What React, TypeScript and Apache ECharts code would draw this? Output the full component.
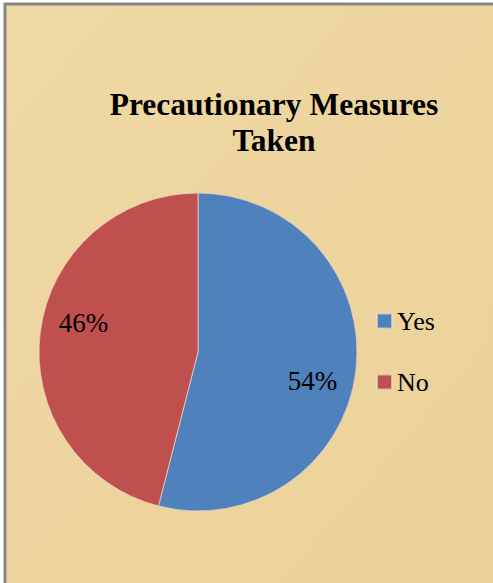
import React, { useEffect, useRef } from "react";
import * as echarts from "echarts";

const titleLines = ["Precautionary Measures", "Taken"];
const categories = ["Yes", "No"];
const values = [54, 46];
const colors = ["#4F81BD", "#C0504D"];

const SERIF = "Liberation Serif";

export default function App() {
  const ref = useRef<HTMLDivElement>(null);
  useEffect(() => {
    document.body.style.margin = "0";
    const chart = echarts.init(ref.current!, null, { renderer: "svg" });
    const data = categories.map((c, i) => ({ name: c, value: values[i], itemStyle: { color: colors[i] } }));
    chart.setOption({
      animation: false,
      backgroundColor: "#ffffff",
      textStyle: { fontFamily: SERIF },
      graphic: [
        {
          type: "rect",
          z: -10,
          shape: { x: 5, y: 4, width: 600, height: 700 },
          style: {
            fill: new echarts.graphic.LinearGradient(0, 0, 1, 1, [
              { offset: 0, color: "#EFD9A6" },
              { offset: 0.5, color: "#EDD39C" },
              { offset: 1, color: "#EBD09A" },
            ]),
            stroke: "#858585",
            lineWidth: 3,
          },
        },
      ],
      title: {
        text: titleLines.join("\n"),
        left: 269,
        top: 81,
        textAlign: "center",
        textStyle: {
          fontFamily: SERIF,
          fontWeight: "bold",
          fontSize: 31.5,
          lineHeight: 36,
          color: "#000",
        },
      },
      legend: {
        orient: "vertical",
        left: 371,
        top: 303,
        itemWidth: 15,
        itemHeight: 15,
        itemGap: 35,
        icon: "rect",
        data: categories,
        textStyle: { fontFamily: SERIF, fontSize: 26, lineHeight: 24, color: "#000" },
      },
      series: [
        {
          type: "pie",
          center: [198, 352],
          radius: [0, 159],
          startAngle: 90,
          clockwise: true,
          label: { show: false },
          labelLine: { show: false },
          itemStyle: { borderColor: "rgba(235,220,200,0.7)", borderWidth: 1 },
          emphasis: { disabled: true },
          data,
        },
        {
          type: "pie",
          center: [198, 352],
          radius: [110, 120],
          startAngle: 83,
          clockwise: true,
          silent: true,
          itemStyle: { color: "transparent" },
          label: {
            show: true,
            position: "inside",
            formatter: "{p|{c}%}",
            fontFamily: SERIF,
            fontSize: 27,
            color: "#000",
            textBorderWidth: 0,
            rich: {
              p: { fontFamily: SERIF, fontSize: 27, color: "#000" },
            },
          },
          labelLine: { show: false },
          emphasis: { disabled: true },
          data: categories.map((c, i) => ({ name: c, value: values[i] })),
        },
      ],
    });
    return () => chart.dispose();
  }, []);
  return <div ref={ref} style={{ width: 493, height: 583 }} />;
}
